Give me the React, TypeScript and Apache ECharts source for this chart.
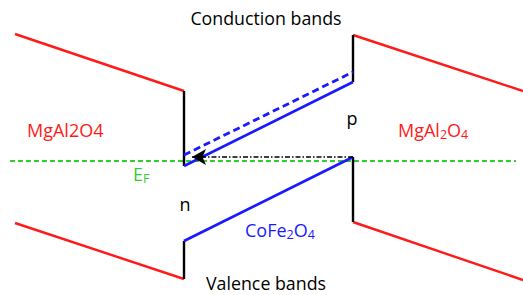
import React, { useEffect, useRef } from "react";
import * as echarts from "echarts";

// Band diagram coordinates (x: position, y: energy drawn downward)
const leftCB = [[15, 34], [184, 91]];
const leftVB = [[15, 223], [184, 279]];
const rightCB = [[353, 35], [523, 91]];
const rightVB = [[353, 222], [523, 280]];
const cfoCB = [[184, 166], [353, 82]];
const cfoCBShifted = [[184, 155], [353, 72]];
const cfoVB = [[184, 241], [353, 157]];
const offsetLeftCB = [[184, 91], [184, 166]];
const offsetLeftVB = [[184, 241], [184, 279]];
const offsetRightCB = [[353, 35], [353, 82]];
const offsetRightVB = [[353, 157], [353, 222]];
const fermiLevel = [[10, 161], [516, 161]];
const transferFrom = [353, 157];
const transferTo = [192, 157];

const RED = "#ff1a1a";
const BLUE = "#1a1aff";
const GREEN = "#33cc33";
const FONT = "Open Sans";

function seg(data: number[][], color: string, width: number, type: any = "solid", z = 2) {
  return {
    type: "line",
    data,
    symbol: "none",
    silent: true,
    z,
    lineStyle: { color, width, type },
  };
}

export default function App() {
  const ref = useRef<HTMLDivElement>(null);
  useEffect(() => {
    if (!ref.current) return;
    const chart = echarts.init(ref.current, null, { renderer: "svg" });
    const sub = { fontSize: 12.5, fontFamily: FONT, padding: [9, 0, 0, 0] };
    chart.setOption({
      animation: false,
      grid: { left: 0, right: 0, top: 0, bottom: 0 },
      xAxis: { type: "value", min: 0, max: 523, show: false },
      yAxis: { type: "value", min: 0, max: 295, inverse: true, show: false },
      series: [
        seg(fermiLevel, GREEN, 2, [5, 3], 1),
        seg(leftCB, RED, 2.4),
        seg(leftVB, RED, 2.4),
        seg(rightCB, RED, 2.4),
        seg(rightVB, RED, 2.4),
        seg(offsetLeftCB, "#000", 2.4),
        seg(offsetLeftVB, "#000", 2.4),
        seg(offsetRightCB, "#000", 2.4),
        seg(offsetRightVB, "#000", 2.4),
        seg(cfoCB, BLUE, 2.8),
        seg(cfoCBShifted, BLUE, 2.8, [7, 4]),
        seg(cfoVB, BLUE, 2.8),
        {
          type: "line",
          data: [],
          markLine: {
            silent: true,
            symbol: ["none", "arrow"],
            symbolSize: [12, 14],
            label: { show: false },
            lineStyle: { color: "#000", width: 1.6, type: [5, 2, 1.5, 2] },
            data: [[{ coord: transferFrom }, { coord: transferTo }]],
          },
        },
      ],
      graphic: [
        {
          type: "text",
          x: 266,
          y: 18,
          style: { text: "Conduction bands", fontSize: 17.8, fontFamily: FONT, fill: "#000", textAlign: "center", textVerticalAlign: "middle" },
        },
        {
          type: "text",
          x: 266,
          y: 283,
          style: { text: "Valence bands", fontSize: 17.8, fontFamily: FONT, fill: "#000", textAlign: "center", textVerticalAlign: "middle" },
        },
        {
          type: "text",
          x: 27,
          y: 130,
          style: { text: "MgAl2O4", fontSize: 18, fontFamily: FONT, fill: RED, textAlign: "left", textVerticalAlign: "middle" },
        },
        {
          type: "text",
          x: 398,
          y: 130,
          style: {
            text: "{n|MgAl}{s|2}{n|O}{s|4}",
            fill: RED,
            textAlign: "left",
            textVerticalAlign: "middle",
            rich: { n: { fontSize: 18, fontFamily: FONT, fill: RED }, s: { ...sub, fill: RED } },
          },
        },
        {
          type: "text",
          x: 245,
          y: 230,
          style: {
            text: "{n|CoFe}{s|2}{n|O}{s|4}",
            fill: BLUE,
            textAlign: "left",
            textVerticalAlign: "middle",
            rich: { n: { fontSize: 18, fontFamily: FONT, fill: BLUE }, s: { ...sub, fill: BLUE } },
          },
        },
        {
          type: "text",
          x: 133,
          y: 174,
          style: {
            text: "{n|E}{s|F}",
            fill: GREEN,
            textAlign: "left",
            textVerticalAlign: "middle",
            rich: { n: { fontSize: 18, fontFamily: FONT, fill: GREEN }, s: { ...sub, fill: GREEN } },
          },
        },
        {
          type: "text",
          x: 352,
          y: 118,
          style: { text: "p", fontSize: 18, fontFamily: FONT, fill: "#000", textAlign: "center", textVerticalAlign: "middle" },
        },
        {
          type: "text",
          x: 185,
          y: 204,
          style: { text: "n", fontSize: 18, fontFamily: FONT, fill: "#000", textAlign: "center", textVerticalAlign: "middle" },
        },
      ],
    });
    return () => chart.dispose();
  }, []);
  return (
    <div
      ref={ref}
      style={{ position: "fixed", left: 0, top: 0, width: 523, height: 295, background: "#fff" }}
    />
  );
}
